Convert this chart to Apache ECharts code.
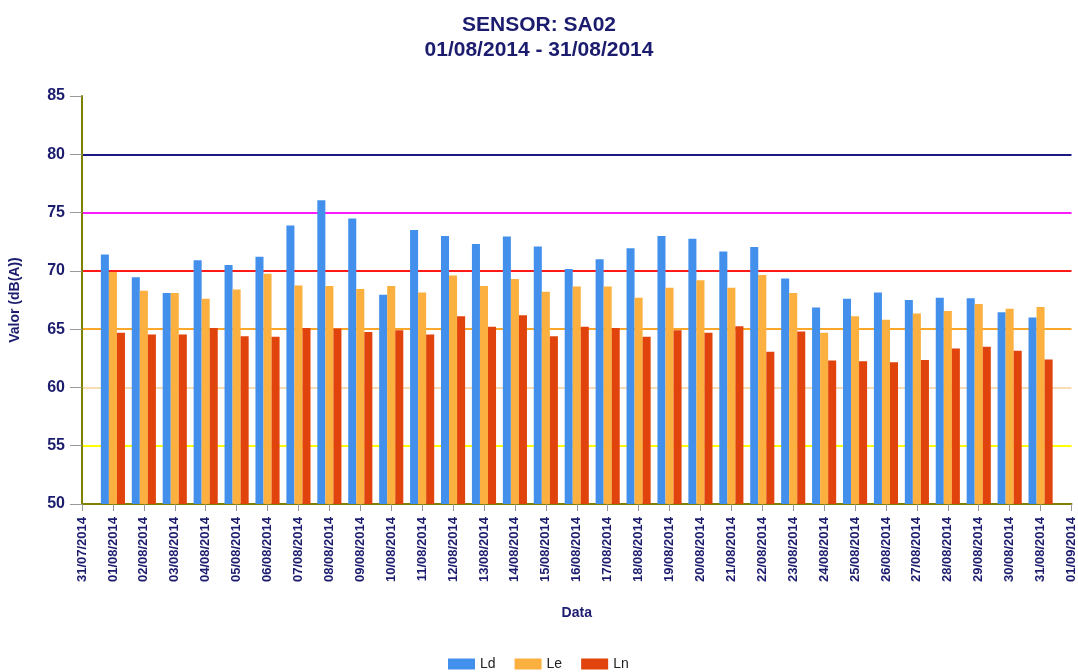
<!DOCTYPE html>
<html>
<head>
<meta charset="utf-8">
<title>SENSOR: SA02</title>
<script src="https://cdn.jsdelivr.net/npm/echarts@6/dist/echarts.min.js"></script>
<style>
  html, body { margin: 0; padding: 0; background: #ffffff; }
  #chart { width: 1078px; height: 672px; }
</style>
</head>
<body>
<div id="chart"></div>
<script>
// x axis ticks (first and last are empty padding days)
const days = [
  "31/07/2014", "01/08/2014", "02/08/2014", "03/08/2014", "04/08/2014",
  "05/08/2014", "06/08/2014", "07/08/2014", "08/08/2014", "09/08/2014",
  "10/08/2014", "11/08/2014", "12/08/2014", "13/08/2014", "14/08/2014",
  "15/08/2014", "16/08/2014", "17/08/2014", "18/08/2014", "19/08/2014",
  "20/08/2014", "21/08/2014", "22/08/2014", "23/08/2014", "24/08/2014",
  "25/08/2014", "26/08/2014", "27/08/2014", "28/08/2014", "29/08/2014",
  "30/08/2014", "31/08/2014", "01/09/2014"
];

// daily values, 01/08 .. 31/08
const ld = [71.4, 69.45, 68.1, 70.9, 70.5, 71.2, 73.9, 76.05, 74.5, 67.95,
  73.5, 73.0, 72.3, 72.95, 72.1, 70.15, 71.0, 71.95, 73.0, 72.75,
  71.65, 72.05, 69.35, 66.85, 67.6, 68.15, 67.5, 67.7, 67.65, 66.45, 66.0];
const le = [69.9, 68.3, 68.1, 67.6, 68.4, 69.75, 68.75, 68.7, 68.45, 68.7,
  68.15, 69.6, 68.7, 69.3, 68.2, 68.65, 68.65, 67.7, 68.55, 69.2,
  68.55, 69.65, 68.1, 64.7, 66.1, 65.8, 66.35, 66.55, 67.15, 66.75, 66.9];
const ln = [64.7, 64.55, 64.55, 65.1, 64.4, 64.35, 65.1, 65.05, 64.75, 64.9,
  64.55, 66.1, 65.2, 66.2, 64.4, 65.2, 65.1, 64.35, 64.9, 64.7,
  65.25, 63.05, 64.8, 62.3, 62.25, 62.15, 62.35, 63.35, 63.5, 63.15, 62.4];

const yMin = 50;
const yMax = 85;
const yStep = 5;

const navy = "#1c1c6e";
// one colour per y tick line: 50,55,60,65,70,75,80,85
const limitColors = ["rgba(0,0,0,0)", "#ffff00", "#f7dcb4", "#fba72a",
  "#ff1a1a", "#ff1aff", "#1a1a80", "rgba(0,0,0,0)"];

function pad(arr) {
  return [null].concat(arr, [null]);
}

const chart = echarts.init(document.getElementById("chart"));
chart.setOption({
  backgroundColor: "#ffffff",
  animation: false,
  textStyle: { fontFamily: "Liberation Sans, Arial, sans-serif" },
  title: {
    text: "SENSOR: SA02\n01/08/2014 - 31/08/2014",
    left: "center",
    top: 8,
    textStyle: {
      color: navy,
      fontSize: 21,
      fontWeight: "bold",
      lineHeight: 25
    }
  },
  legend: {
    data: ["Ld", "Le", "Ln"],
    left: 443,
    top: 652,
    icon: "rect",
    itemWidth: 27,
    itemHeight: 11,
    itemGap: 19,
    textStyle: { color: "#222222", fontSize: 14 }
  },
  grid: {
    left: 82,
    right: 5,
    top: 96,
    bottom: 168
  },
  xAxis: {
    type: "category",
    data: days,
    boundaryGap: false,
    name: "Data",
    nameLocation: "middle",
    nameGap: 102,
    nameTextStyle: { color: navy, fontSize: 14, fontWeight: "bold" },
    axisLine: { lineStyle: { color: "#808000", width: 2 } },
    axisTick: { length: 7, lineStyle: { color: "#999999" } },
    axisLabel: {
      interval: 0,
      rotate: 90,
      margin: 13,
      color: navy,
      fontSize: 13,
      fontWeight: "bold"
    },
    splitLine: { show: false }
  },
  yAxis: {
    type: "value",
    min: yMin,
    max: yMax,
    interval: yStep,
    name: "Valor (dB(A))",
    nameLocation: "middle",
    nameGap: 60,
    nameTextStyle: { color: navy, fontSize: 14, fontWeight: "bold" },
    axisLine: { show: true, lineStyle: { color: "#808000", width: 2 } },
    axisTick: { show: true, length: 12, lineStyle: { color: "#999999" } },
    axisLabel: { color: navy, fontSize: 16, fontWeight: "bold", margin: 17 },
    splitLine: { show: true, lineStyle: { color: limitColors, width: 2 } }
  },
  series: [
    { name: "Ld", type: "bar", data: pad(ld), itemStyle: { color: "#4390ec" },
      barGap: "0%", barCategoryGap: "22%" },
    { name: "Le", type: "bar", data: pad(le), itemStyle: { color: "#fbb040" } },
    { name: "Ln", type: "bar", data: pad(ln), itemStyle: { color: "#e0430b" } }
  ]
});
</script>
</body>
</html>
